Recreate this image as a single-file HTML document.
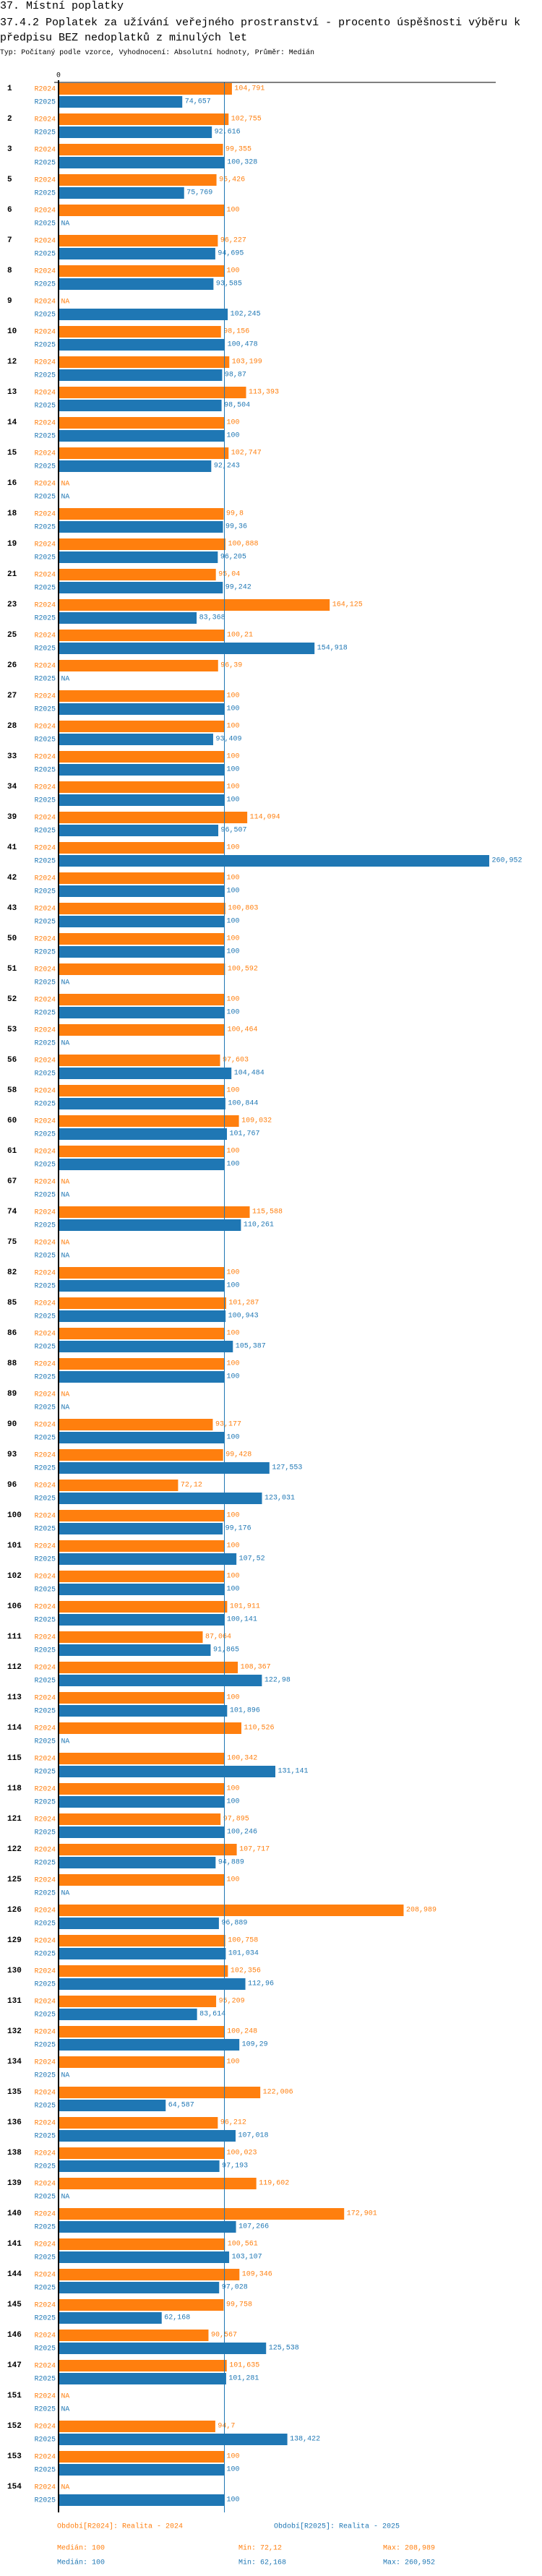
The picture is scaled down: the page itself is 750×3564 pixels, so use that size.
<!DOCTYPE html>
<html><head><meta charset="utf-8">
<style>
html,body{margin:0;padding:0;background:#fff;}
body{width:750px;height:3564px;overflow:hidden;position:relative;font-family:"Liberation Mono","DejaVu Sans Mono",monospace;}
.t{position:absolute;left:0;white-space:nowrap;color:#000;}
svg{position:absolute;left:0;top:0;}
</style></head>
<body>
<div class="t" style="top:0;font-size:15px;line-height:18px;">37. Místní poplatky</div>
<div class="t" style="top:21px;font-size:15px;line-height:21px;">37.4.2 Poplatek za užívání veřejného prostranství - procento úspěšnosti výběru k<br>předpisu BEZ nedoplatků z minulých let</div>
<div class="t" style="top:67px;font-size:9.8px;line-height:12px;">Typ: Počítaný podle vzorce, Vyhodnocení: Absolutní hodnoty, Průměr: Medián</div>
<svg id="chart" width="750" height="3564"></svg>
<script>
const categories=["1","2","3","5","6","7","8","9","10","12","13","14","15","16","18","19","21","23","25","26","27","28","33","34","39","41","42","43","50","51","52","53","56","58","60","61","67","74","75","82","85","86","88","89","90","93","96","100","101","102","106","111","112","113","114","115","118","121","122","125","126","129","130","131","132","134","135","136","138","139","140","141","144","145","146","147","151","152","153","154"];
const r2024=[104.791,102.755,99.355,95.426,100,96.227,100,null,98.156,103.199,113.393,100,102.747,null,99.8,100.888,95.04,164.125,100.21,96.39,100,100,100,100,114.094,100,100,100.803,100,100.592,100,100.464,97.603,100,109.032,100,null,115.588,null,100,101.287,100,100,null,93.177,99.428,72.12,100,100,100,101.911,87.064,108.367,100,110.526,100.342,100,97.895,107.717,100,208.989,100.758,102.356,95.209,100.248,100,122.006,96.212,100.023,119.602,172.901,100.561,109.346,99.758,90.567,101.635,null,94.7,100,null];
const r2025=[74.657,92.616,100.328,75.769,null,94.695,93.585,102.245,100.478,98.87,98.504,100,92.243,null,99.36,96.205,99.242,83.368,154.918,null,100,93.409,100,100,96.507,260.952,100,100,100,null,100,null,104.484,100.844,101.767,100,null,110.261,null,100,100.943,105.387,100,null,100,127.553,123.031,99.176,107.52,100,100.141,91.865,122.98,101.896,null,131.141,100,100.246,94.889,null,96.889,101.034,112.96,83.614,109.29,null,64.587,107.018,97.193,null,107.266,103.107,97.028,62.168,125.538,101.281,null,138.422,100,100];
const seriesNames=["R2024","R2025"];
const medianValue=100;
const xTickLabels=["0"];

const NS="http://www.w3.org/2000/svg";
const svg=document.getElementById('chart');
const X0=82, PX=2.28, TOP=114, PITCH=42, BARH=16, COLORS=["#ff7f0e","#1f77b4"];
const xs=v=>X0+v*PX;
const ys=(i,s)=>TOP+i*PITCH+s*18+1;
function mk(tag,attrs,text){const e=document.createElementNS(NS,tag);for(const k in attrs)e.setAttribute(k,attrs[k]);if(text!==undefined)e.textContent=text;svg.appendChild(e);return e;}
const fmt=v=>String(+v.toFixed(3)).replace('.',',');
const bottom=TOP+categories.length*PITCH+2;

categories.forEach((c,i)=>{
  const g=mk('text',{x:10,y:ys(i,0)+8,'dominant-baseline':'central','font-size':'11','font-weight':'bold',fill:'#000','font-family':'Liberation Mono, monospace'},c);
  
  
  [r2024,r2025].forEach((arr,s)=>{
    const v=arr[i], y=ys(i,s);
    const lab=mk('text',{x:77,y:y+8,'text-anchor':'end','dominant-baseline':'central','font-size':'9.8',fill:COLORS[s],'font-family':'Liberation Mono, monospace'},seriesNames[s]);
    
    
    if(v===null){
      const na=mk('text',{x:84.5,y:y+8,'dominant-baseline':'central','font-size':'9.8',fill:COLORS[s],'font-family':'Liberation Mono, monospace'},'NA');
      
      
    } else {
      const r=mk('rect',{x:X0,y:y,width:xs(v)-X0,height:BARH,fill:COLORS[s]});
      
      
      const t=mk('text',{x:xs(v)+3.5,y:y+8,'dominant-baseline':'central','font-size':'10',fill:COLORS[s],'font-family':'Liberation Mono, monospace'},fmt(v));
      
      
    }
  });
});
const ml=mk('line',{x1:xs(medianValue)+0.5,x2:xs(medianValue)+0.5,y1:TOP,y2:bottom,stroke:'#1f77b4','stroke-width':1});


const ax=mk('line',{x1:81,x2:81,y1:TOP-3,y2:bottom,stroke:'#000','stroke-width':2});


const tx=mk('line',{x1:75,x2:686,y1:TOP,y2:TOP,stroke:'#000','stroke-width':1});


const t0=mk('text',{x:81,y:104,'text-anchor':'middle','dominant-baseline':'central','font-size':'9.8',fill:'#000','font-family':'Liberation Mono, monospace'},xTickLabels[0]);



function txt(x,y,col,s){const e=mk('text',{x:x,y:y,'dominant-baseline':'central','font-size':'10',fill:col,'font-family':'Liberation Mono, monospace'},s);return e;}
let e;
e=txt(79,3496,COLORS[0],'Období[R2024]: Realita - 2024');


e=txt(379,3496,COLORS[1],'Období[R2025]: Realita - 2025');


const stats=[["Medián: 100","Min: 72,12","Max: 208,989"],["Medián: 100","Min: 62,168","Max: 260,952"]];
const sx=[79,330,530];
stats.forEach((row,s)=>row.forEach((str,k)=>{
  const el=txt(sx[k],3526+s*20,COLORS[s],str);
  
  
}));
</script>
</body></html>
